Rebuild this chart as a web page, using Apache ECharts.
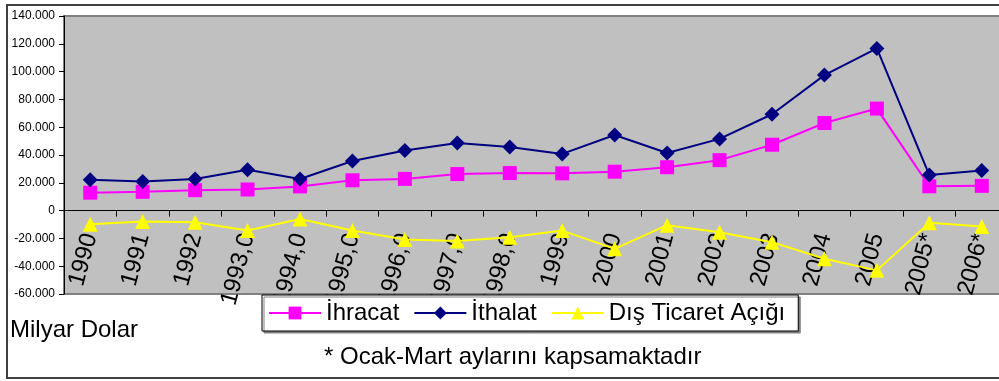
<!DOCTYPE html>
<html>
<head>
<meta charset="utf-8">
<script src="https://cdn.jsdelivr.net/npm/echarts@6/dist/echarts.min.js"></script>
<style>
  html, body { margin: 0; padding: 0; background: #fff; }
  #chart { width: 999px; height: 381px; }
</style>
</head>
<body>
<div id="chart"></div>
<script>
// yillar (son ikisi Ocak-Mart)
var years = ['1990', '1991', '1992', '1993,0', '1994,0', '1995,0', '1996,0', '1997,0', '1998,0',
  '1999', '2000', '2001', '2002', '2003', '2004', '2005', '2005*', '2006*']
// milyon dolar
var ihracat = [12900, 13500, 14700, 15200, 17400, 21800, 22800, 26300, 27000,
  26800, 28000, 31200, 36300, 47400, 63000, 73400, 17500, 17800]
var ithalat = [22200, 20900, 22800, 29400, 22700, 35700, 43300, 48600, 45700,
  40800, 54400, 41400, 51600, 69300, 97500, 116700, 25600, 28800]
var disTicaretAcigi = [-9900, -7900, -8400, -14300, -6000, -14300, -20800, -21900, -19100,
  -14400, -27500, -10500, -15500, -22700, -34600, -43000, -8800, -11500]

var FONT = 'Liberation Sans, Arial, sans-serif'

function binlik (v) {
  return String(v).replace(/\B(?=(\d{3})+(?!\d))/g, '.')
}

var chart = echarts.init(document.getElementById('chart'))
var option = {
  animation: false,
  backgroundColor: '#ffffff',
  textStyle: { fontFamily: FONT, color: '#000' },
  grid: {
    left: 64,
    top: 16,
    width: 944,
    height: 278,
    outerBoundsMode: 'none',
    show: true,
    backgroundColor: '#c0c0c0',
    borderColor: '#808080',
    borderWidth: 2
  },
  legend: {
    left: 262,
    top: 295,
    padding: [6, 13, 6, 6],
    itemWidth: 52,
    itemHeight: 16,
    itemGap: 14,
    backgroundColor: '#ffffff',
    borderColor: '#000000',
    borderWidth: 1,
    shadowColor: '#808080',
    shadowOffsetX: 2,
    shadowOffsetY: 2,
    shadowBlur: 0,
    textStyle: { fontFamily: FONT, fontSize: 24, color: '#000' },
    data: ['İhracat', 'İthalat', 'Dış Ticaret Açığı']
  },
  xAxis: {
    type: 'category',
    data: years,
    boundaryGap: true,
    axisLine: { onZero: true, lineStyle: { color: '#000', width: 1 } },
    axisTick: { show: true, length: 6, lineStyle: { color: '#000' } },
    axisLabel: {
      // etiketler sifir cizgisinin altinda dursun (grid altindan yukari)
      rotate: 75,
      margin: -60,
      interval: 0,
      fontSize: 24,
      fontFamily: FONT,
      color: '#000'
    },
    splitLine: { show: false }
  },
  yAxis: {
    type: 'value',
    min: -60000,
    max: 140000,
    interval: 20000,
    axisLine: { show: true, lineStyle: { color: '#000', width: 1 } },
    axisTick: { show: true, length: 5, lineStyle: { color: '#000' } },
    axisLabel: {
      fontSize: 12,
      fontFamily: FONT,
      color: '#000',
      margin: 9,
      formatter: function (v) { return binlik(v) }
    },
    splitLine: { show: false }
  },
  series: [
    {
      name: 'İhracat',
      type: 'line',
      data: ihracat,
      symbol: 'rect',
      symbolSize: 14,
      lineStyle: { color: '#ff00ff', width: 2 },
      itemStyle: { color: '#ff00ff' },
      z: 3
    },
    {
      name: 'İthalat',
      type: 'line',
      data: ithalat,
      symbol: 'diamond',
      symbolSize: 15,
      lineStyle: { color: '#000080', width: 2 },
      itemStyle: { color: '#000080' },
      z: 4
    },
    {
      name: 'Dış Ticaret Açığı',
      type: 'line',
      data: disTicaretAcigi,
      symbol: 'triangle',
      symbolSize: 15,
      lineStyle: { color: '#ffff00', width: 2 },
      itemStyle: { color: '#ffff00' },
      z: 2
    }
  ],
  graphic: [
    {
      type: 'rect',
      shape: { x: 7, y: 5, width: 1000, height: 373 },
      style: { fill: 'none', stroke: '#404040', lineWidth: 2 },
      silent: true
    },
    {
      type: 'text',
      left: 10,
      top: 318,
      style: { text: 'Milyar Dolar', font: '24px ' + FONT, fill: '#000' }
    },
    {
      type: 'text',
      left: 324,
      top: 345,
      style: { text: '* Ocak-Mart aylarını kapsamaktadır', font: '24px ' + FONT, fill: '#000' }
    }
  ]
}
chart.setOption(option)
</script>
</body>
</html>
